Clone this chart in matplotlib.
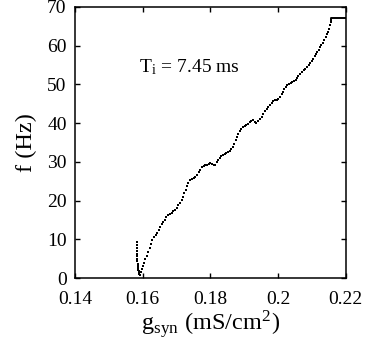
import numpy as np
import matplotlib
matplotlib.use('Agg')
import matplotlib.pyplot as plt

plt.rcParams['font.family'] = ['Liberation Serif', 'DejaVu Serif']
plt.rcParams['mathtext.fontset'] = 'stix'

# lower (unstable) branch near threshold
g_low = [0.1582, 0.1582, 0.1582, 0.1583, 0.1583, 0.1583, 0.1584, 0.1584,
         0.1585, 0.1585, 0.1586, 0.1587, 0.1588, 0.1589, 0.1590, 0.1591]
f_low = [9.4, 8.6, 7.8, 7.0, 6.3, 5.6, 4.9, 4.3,
         3.7, 3.1, 2.6, 2.1, 1.7, 1.3, 1.0, 0.8]

# rising branch
g_up = [0.1594, 0.1597, 0.1600, 0.1604, 0.1608, 0.1612, 0.1616, 0.1620, 0.1624, 0.1628,
        0.1633, 0.1638, 0.1643, 0.1648, 0.1652, 0.1656, 0.1660, 0.1665, 0.1670, 0.1675,
        0.1680, 0.1685, 0.1690, 0.1695, 0.1700, 0.1705, 0.1710, 0.1715, 0.1719, 0.1723,
        0.1727, 0.1731, 0.1735, 0.1740, 0.1745, 0.1750, 0.1755, 0.1760, 0.1765, 0.1770,
        0.1775, 0.1780, 0.1785, 0.1790, 0.1795, 0.1800, 0.1805, 0.1810, 0.1814, 0.1818,
        0.1822, 0.1827, 0.1832, 0.1837, 0.1842, 0.1847, 0.1852, 0.1857, 0.1862, 0.1866,
        0.1870, 0.1874, 0.1878, 0.1882, 0.1886, 0.1891, 0.1896, 0.1901, 0.1906, 0.1911,
        0.1916, 0.1921, 0.1926, 0.1931, 0.1936, 0.1941, 0.1946, 0.1951, 0.1956, 0.1961,
        0.1966, 0.1971, 0.1976, 0.1981, 0.1986, 0.1991, 0.1996, 0.2001, 0.2006, 0.2010,
        0.2014, 0.2018, 0.2022, 0.2027, 0.2032, 0.2037, 0.2042, 0.2047, 0.2052, 0.2056,
        0.2060, 0.2065, 0.2070, 0.2075, 0.2080, 0.2085, 0.2090, 0.2095, 0.2100, 0.2104,
        0.2108, 0.2112, 0.2116, 0.2120, 0.2124, 0.2128, 0.2132, 0.2136, 0.2140, 0.2144,
        0.2148, 0.2151, 0.2154, 0.2156]
f_up = [1.6, 2.4, 3.2, 4.0, 4.9, 5.8, 6.8, 7.8, 8.8, 9.7,
        10.5, 11.1, 11.7, 12.4, 13.2, 13.9, 14.4, 15.0, 15.7, 16.2,
        16.5, 16.8, 17.2, 17.6, 18.1, 18.8, 19.5, 20.2, 21.0, 21.9,
        22.8, 23.7, 24.5, 25.2, 25.6, 25.8, 26.1, 26.6, 27.3, 28.0,
        28.6, 28.9, 29.1, 29.3, 29.5, 29.6, 29.4, 29.1, 29.3, 29.9,
        30.5, 30.9, 31.4, 31.8, 32.1, 32.3, 32.6, 32.9, 33.2, 33.9,
        34.7, 35.6, 36.5, 37.3, 37.9, 38.5, 38.9, 39.2, 39.5, 39.9,
        40.3, 40.6, 40.8, 40.4, 40.1, 40.5, 41.1, 41.7, 42.4, 43.0,
        43.6, 44.1, 44.7, 45.3, 45.7, 45.9, 46.0, 46.3, 46.8, 47.4,
        48.1, 48.8, 49.4, 49.8, 50.1, 50.3, 50.5, 50.8, 51.2, 51.7,
        52.2, 52.7, 53.2, 53.6, 54.0, 54.5, 55.0, 55.5, 56.0, 56.6,
        57.2, 57.8, 58.4, 59.0, 59.6, 60.2, 60.8, 61.5, 62.2, 62.9,
        63.6, 64.4, 65.2, 66.0]

# saturation plateau
g_sat = [0.2157, 0.2157, 0.2200]
f_sat = [66.0, 67.2, 67.2]

xticks = [0.14, 0.16, 0.18, 0.2, 0.22]
yticks = [0, 10, 20, 30, 40, 50, 60, 70]

fig = plt.figure(figsize=(3.66, 3.45), dpi=100)
ax = fig.add_axes([0.205, 0.194, 0.740, 0.786])

ax.plot(g_low, f_low, 's', color='black', markersize=1.9, markeredgewidth=0)
ax.plot(g_up, f_up, 's', color='black', markersize=1.9, markeredgewidth=0)
ax.plot(g_sat, f_sat, '-', color='black', linewidth=1.4)

ax.set_xlim(0.14, 0.22)
ax.set_ylim(0, 70)
ax.set_xticks(xticks)
ax.set_xticklabels(['%g' % t for t in xticks])
ax.set_yticks(yticks)
ax.tick_params(direction='in', top=True, right=True, length=3.5, width=1,
               labelsize=14)
ax.tick_params(axis='x', pad=9)
ax.tick_params(axis='y', pad=6)
for s in ax.spines.values():
    s.set_linewidth(1.1)

ax.text(0.1590, 54.5, r'T$_\mathregular{i}$ = 7.45 ms', fontsize=14, va='center')
ax.set_xlabel(r'g$_\mathregular{syn}$ (mS/cm$^\mathregular{2}$)', fontsize=17.5, labelpad=1)
ax.set_ylabel('f (Hz)', fontsize=17.5, labelpad=7)

fig.savefig('out.png', dpi=100)
